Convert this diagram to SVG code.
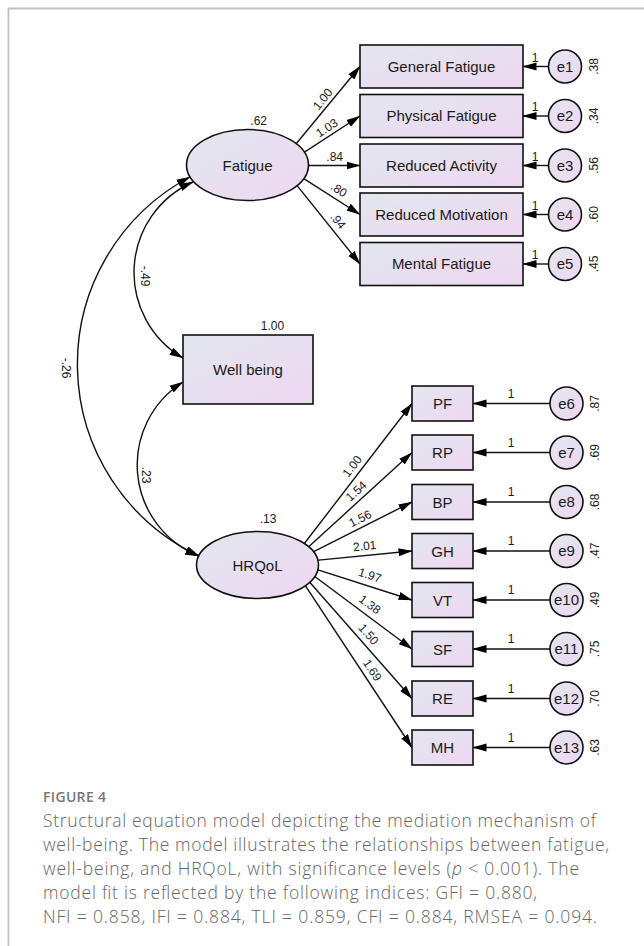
<svg xmlns="http://www.w3.org/2000/svg" width="644" height="946" viewBox="0 0 644 946">
<defs>
<linearGradient id="fillg" x1="0" y1="0" x2="1" y2="1">
<stop offset="0" stop-color="#e2e7ee"/>
<stop offset="1" stop-color="#eed7f2"/>
</linearGradient>
<marker id="arr" markerUnits="userSpaceOnUse" markerWidth="14" markerHeight="10" viewBox="0 0 14 10" refX="13.5" refY="5" orient="auto-start-reverse">
<path d="M0,1 L14,5 L0,9 z" fill="#000"/>
</marker>
<style>
.shape{fill:url(#fillg);stroke:#111;stroke-width:1.6}
.conn{fill:none;stroke:#111;stroke-width:1.4;marker-end:url(#arr)}
.dbl{fill:none;stroke:#111;stroke-width:1.4;marker-start:url(#arr);marker-end:url(#arr)}
.lbl{font-family:"Liberation Sans",Arial,sans-serif;font-size:15px;fill:#1a1a1a;text-anchor:middle}
.num{font-family:"Liberation Sans",Arial,sans-serif;font-size:12px;fill:#1a1a1a;text-anchor:middle}
.cap{font-family:"Open Sans","Liberation Sans",sans-serif;font-size:17.5px;fill:#666;font-weight:300}
.fig{font-family:"Open Sans","Liberation Sans",sans-serif;font-size:14px;fill:#777;font-weight:600}
.frame{stroke:#c2c2c2;stroke-width:1.8;fill:none}
</style>
</defs>
<rect x="0" y="0" width="644" height="946" fill="#fff"/>
<path class="frame" d="M8.5,946 V8.5 H644"/>

<g id="connectors">
<path class="conn" d="M288.7,152.7 L360,66.5"/>
<path class="conn" d="M296.8,157.1 L360,116"/>
<path class="conn" d="M300,165.5 L360,165.5"/>
<path class="conn" d="M297.9,174.8 L360,214.5"/>
<path class="conn" d="M288.7,175.1 L360,264"/>
<path class="conn" d="M548.5,66.5 L523,66.5"/>
<path class="conn" d="M548.5,116 L523,116"/>
<path class="conn" d="M548.5,165.5 L523,165.5"/>
<path class="conn" d="M548.5,214.5 L523,214.5"/>
<path class="conn" d="M548.5,264 L523,264"/>
<path class="conn" d="M295.9,554.5 L412,403.5"/>
<path class="conn" d="M300.8,553.9 L412,452.5"/>
<path class="conn" d="M305.3,555.8 L412,502"/>
<path class="conn" d="M308.2,561.1 L412,551"/>
<path class="conn" d="M307.1,566.4 L412,600"/>
<path class="conn" d="M303.4,568 L412,649"/>
<path class="conn" d="M298.5,569.5 L412,698.5"/>
<path class="conn" d="M293.3,567.4 L412,747.5"/>
<path class="conn" d="M550,403.5 L473,403.5"/>
<path class="conn" d="M550,452.5 L473,452.5"/>
<path class="conn" d="M550,502 L473,502"/>
<path class="conn" d="M550,551 L473,551"/>
<path class="conn" d="M550,600 L473,600"/>
<path class="conn" d="M550,649 L473,649"/>
<path class="conn" d="M550,698.5 L473,698.5"/>
<path class="conn" d="M550,747.5 L473,747.5"/>
<path class="dbl" d="M190,177 A212,212 0 0 0 199,556"/>
<path class="dbl" d="M193,182 A99,99 0 0 0 183,358"/>
<path class="dbl" d="M183,382 A98,98 0 0 0 199,556"/>
<text class="num" transform="translate(322.5,99) rotate(-50.6)" y="4.3">1.00</text>
<text class="num" transform="translate(326.7,127.7) rotate(-33)" y="4.3">1.03</text>
<text class="num" transform="translate(334.7,156.2)" y="4.3">.84</text>
<text class="num" transform="translate(339,189.5) rotate(32.7)" y="4.3">.80</text>
<text class="num" transform="translate(338.3,220.8) rotate(51.3)" y="4.3">.94</text>
<text class="num" x="535" y="61.5">1</text>
<text class="num" x="535" y="111">1</text>
<text class="num" x="535" y="160.5">1</text>
<text class="num" x="535" y="209.5">1</text>
<text class="num" x="535" y="259">1</text>
<text class="num" transform="translate(352,466) rotate(-52.4)" y="4.3">1.00</text>
<text class="num" transform="translate(356,491) rotate(-42.3)" y="4.3">1.54</text>
<text class="num" transform="translate(360,518.3) rotate(-26.8)" y="4.3">1.56</text>
<text class="num" transform="translate(364.7,545.8) rotate(-5.6)" y="4.3">2.01</text>
<text class="num" transform="translate(370,575) rotate(17.8)" y="4.3">1.97</text>
<text class="num" transform="translate(370,604.2) rotate(36.8)" y="4.3">1.38</text>
<text class="num" transform="translate(368.8,634.2) rotate(48.7)" y="4.3">1.50</text>
<text class="num" transform="translate(372.5,670) rotate(56.6)" y="4.3">1.69</text>
<text class="num" x="511" y="397.5">1</text>
<text class="num" x="511" y="446.5">1</text>
<text class="num" x="511" y="496">1</text>
<text class="num" x="511" y="545">1</text>
<text class="num" x="511" y="594">1</text>
<text class="num" x="511" y="643">1</text>
<text class="num" x="511" y="692.5">1</text>
<text class="num" x="511" y="741.5">1</text>
<text class="num" transform="translate(62,368) rotate(90)">-.26</text>
<text class="num" transform="translate(141,276) rotate(90)">-.49</text>
<text class="num" transform="translate(142,475) rotate(90)">.23</text>
</g>

<g id="fatigue">
<ellipse class="shape" cx="247.5" cy="165" rx="61" ry="35.5"/>
<text class="lbl" x="247.5" y="170.5">Fatigue</text>
<text class="num" x="258.7" y="125">.62</text>
</g>
<g id="wellbeing">
<rect class="shape" x="183" y="335" width="130" height="69"/>
<text class="lbl" x="248" y="375">Well being</text>
<text class="num" x="272.5" y="329.5">1.00</text>
</g>
<g id="hrqol">
<ellipse class="shape" cx="257.5" cy="565" rx="61" ry="33.5"/>
<text class="lbl" x="257.5" y="570.5">HRQoL</text>
<text class="num" x="268" y="523">.13</text>
</g>

<g id="general-fatigue"><rect class="shape" x="360" y="45" width="163" height="43"/><text class="lbl" x="441.5" y="71.5">General Fatigue</text></g>
<g id="physical-fatigue"><rect class="shape" x="360" y="94.5" width="163" height="43"/><text class="lbl" x="441.5" y="121">Physical Fatigue</text></g>
<g id="reduced-activity"><rect class="shape" x="360" y="144" width="163" height="43"/><text class="lbl" x="441.5" y="170.5">Reduced Activity</text></g>
<g id="reduced-motivation"><rect class="shape" x="360" y="193" width="163" height="43"/><text class="lbl" x="441.5" y="219.5">Reduced Motivation</text></g>
<g id="mental-fatigue"><rect class="shape" x="360" y="242.5" width="163" height="43"/><text class="lbl" x="441.5" y="269">Mental Fatigue</text></g>

<g id="e1"><circle class="shape" cx="565" cy="66.5" r="16.5"/><text class="lbl" x="565" y="71.5">e1</text><text class="num" transform="translate(598,66.5) rotate(-90)">.38</text></g>
<g id="e2"><circle class="shape" cx="565" cy="116" r="16.5"/><text class="lbl" x="565" y="121">e2</text><text class="num" transform="translate(598,116) rotate(-90)">.34</text></g>
<g id="e3"><circle class="shape" cx="565" cy="165.5" r="16.5"/><text class="lbl" x="565" y="170.5">e3</text><text class="num" transform="translate(598,165.5) rotate(-90)">.56</text></g>
<g id="e4"><circle class="shape" cx="565" cy="214.5" r="16.5"/><text class="lbl" x="565" y="219.5">e4</text><text class="num" transform="translate(598,214.5) rotate(-90)">.60</text></g>
<g id="e5"><circle class="shape" cx="565" cy="264" r="16.5"/><text class="lbl" x="565" y="269">e5</text><text class="num" transform="translate(598,264) rotate(-90)">.45</text></g>

<g id="pf"><rect class="shape" x="412" y="386" width="61" height="35"/><text class="lbl" x="442.5" y="409">PF</text></g>
<g id="rp"><rect class="shape" x="412" y="435" width="61" height="35"/><text class="lbl" x="442.5" y="458">RP</text></g>
<g id="bp"><rect class="shape" x="412" y="484.5" width="61" height="35"/><text class="lbl" x="442.5" y="507.5">BP</text></g>
<g id="gh"><rect class="shape" x="412" y="533.5" width="61" height="35"/><text class="lbl" x="442.5" y="556.5">GH</text></g>
<g id="vt"><rect class="shape" x="412" y="582.5" width="61" height="35"/><text class="lbl" x="442.5" y="605.5">VT</text></g>
<g id="sf"><rect class="shape" x="412" y="631.5" width="61" height="35"/><text class="lbl" x="442.5" y="654.5">SF</text></g>
<g id="re"><rect class="shape" x="412" y="681" width="61" height="35"/><text class="lbl" x="442.5" y="704">RE</text></g>
<g id="mh"><rect class="shape" x="412" y="730" width="61" height="35"/><text class="lbl" x="442.5" y="753">MH</text></g>

<g id="e6"><circle class="shape" cx="566.5" cy="403.5" r="16.5"/><text class="lbl" x="566.5" y="408.5">e6</text><text class="num" transform="translate(599,403.5) rotate(-90)">.87</text></g>
<g id="e7"><circle class="shape" cx="566.5" cy="452.5" r="16.5"/><text class="lbl" x="566.5" y="457.5">e7</text><text class="num" transform="translate(599,452.5) rotate(-90)">.69</text></g>
<g id="e8"><circle class="shape" cx="566.5" cy="502" r="16.5"/><text class="lbl" x="566.5" y="507">e8</text><text class="num" transform="translate(599,502) rotate(-90)">.68</text></g>
<g id="e9"><circle class="shape" cx="566.5" cy="551" r="16.5"/><text class="lbl" x="566.5" y="556">e9</text><text class="num" transform="translate(599,551) rotate(-90)">.47</text></g>
<g id="e10"><circle class="shape" cx="566.5" cy="600" r="16.5"/><text class="lbl" x="566.5" y="605">e10</text><text class="num" transform="translate(599,600) rotate(-90)">.49</text></g>
<g id="e11"><circle class="shape" cx="566.5" cy="649" r="16.5"/><text class="lbl" x="566.5" y="654">e11</text><text class="num" transform="translate(599,649) rotate(-90)">.75</text></g>
<g id="e12"><circle class="shape" cx="566.5" cy="698.5" r="16.5"/><text class="lbl" x="566.5" y="703.5">e12</text><text class="num" transform="translate(599,698.5) rotate(-90)">.70</text></g>
<g id="e13"><circle class="shape" cx="566.5" cy="747.5" r="16.5"/><text class="lbl" x="566.5" y="752.5">e13</text><text class="num" transform="translate(599,747.5) rotate(-90)">.63</text></g>

<g id="caption">
<text class="fig" x="43" y="802" textLength="63">FIGURE 4</text>
<text class="cap" x="43" y="827" textLength="553">Structural equation model depicting the mediation mechanism of</text>
<text class="cap" x="43" y="851" textLength="566">well-being. The model illustrates the relationships between fatigue,</text>
<text class="cap" x="43" y="875" textLength="536">well-being, and HRQoL, with significance levels (<tspan font-style="italic">p</tspan> &lt; 0.001). The</text>
<text class="cap" x="43" y="899" textLength="494">model fit is reflected by the following indices: GFI = 0.880,</text>
<text class="cap" x="43" y="923" textLength="554">NFI = 0.858, IFI = 0.884, TLI = 0.859, CFI = 0.884, RMSEA = 0.094.</text>
</g>
</svg>
